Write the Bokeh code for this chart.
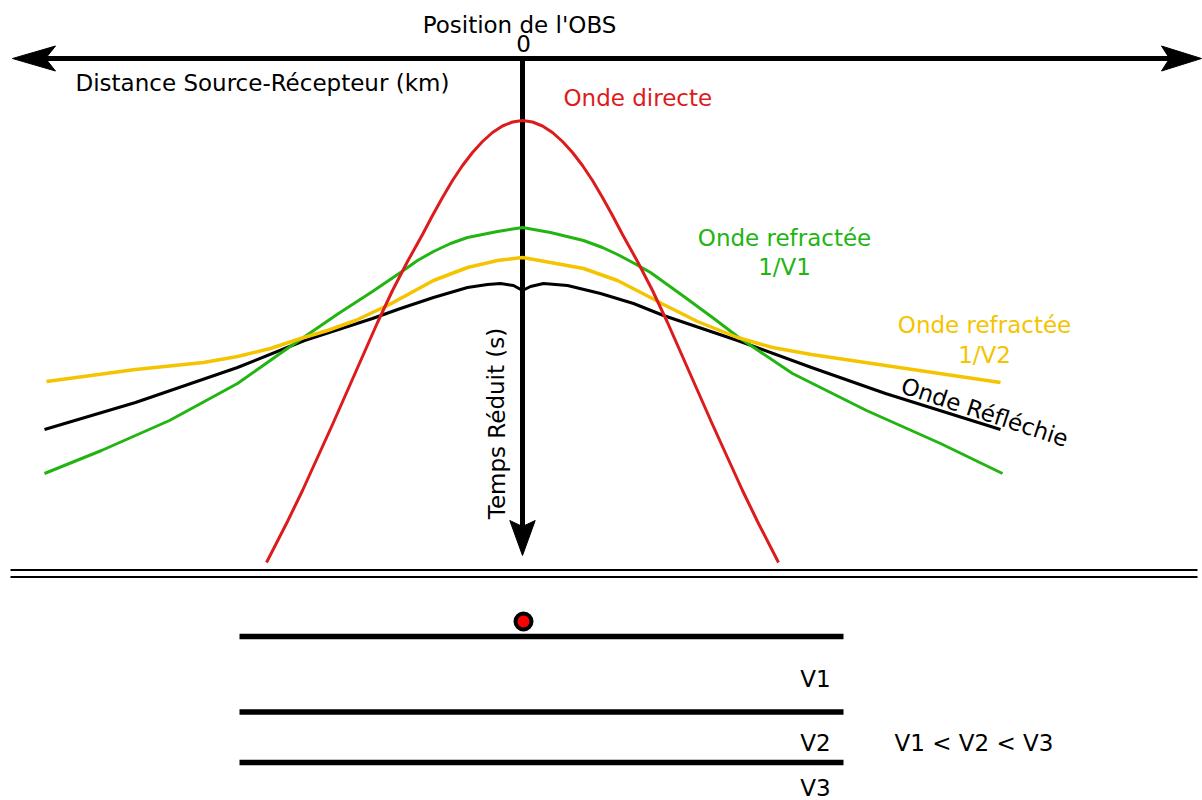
from bokeh.plotting import figure
from bokeh.models import Range1d
from bokeh.core.properties import value
from bokeh.embed import file_html
from bokeh.resources import INLINE

# ---------------- data (distance from the OBS, reduced time), schematic units ----------------
direct_x = [-256, -235, -220, -205, -190, -175, -160, -145, -130, -115, -100, -90, -80, -70, -60, -50, -40, -30, -20, -10, 0,
            10, 20, 30, 40, 50, 60, 70, 80, 90, 100, 115, 130, 145, 160, 175, 190, 205, 220, 235, 256]
direct_t = [504, 463, 432, 399, 366, 332, 298, 264, 232, 203, 176, 157, 139, 122, 107, 94, 83, 74, 67.5, 63.5, 62,
            63.5, 67.5, 74, 83, 94, 107, 122, 139, 157, 176, 203, 232, 264, 298, 332, 366, 399, 432, 463, 504]

refr1_x = [-478, -421, -353, -285, -238, -184, -150, -122, -105, -89, -72, -55, -25, 0,
           28, 61, 80, 95, 112, 128, 160, 190, 215, 270, 344, 418, 480]
refr1_t = [415, 392, 362, 325, 292, 255, 233, 214, 202, 193, 185, 179, 173, 169,
           174, 182, 189, 196, 205, 214, 237, 259, 278, 315, 352, 385, 415]

refr2_x = [-476, -387, -319, -285, -252, -225, -195, -167, -133, -100, -89, -55, -25, 0,
           28, 61, 95, 128, 141, 175, 215, 250, 289, 363, 478]
refr2_t = [323, 311, 304, 298, 290, 281, 272, 262, 246, 228, 222, 209, 202, 199,
           204, 210, 222, 239, 246, 263, 279, 289, 296, 307, 324]

refl_x = [-478, -387, -285, -218, -150, -122, -89, -55, -35, -22, -9, 0,
          8, 21, 45, 78, 111, 141, 215, 289, 363, 478]
refl_t = [371, 344, 309, 282, 260, 250, 239, 229, 226, 225, 227, 232,
          228, 225, 227, 235, 245, 257, 282, 309, 335, 371]

layer_t = [578, 653.5, 704]          # interfaces below the OBS
layer_x = [-283, 321]
layer_labels = ["V1", "V2", "V3"]
layer_label_t = [620, 684, 729]
obs_x, obs_t = [1], [563]

# ---------------- styles ----------------
RED, GREEN, YELLOW = "#dc1c1c", "#22b512", "#f5c400"
FONT = value("DejaVu Sans")
FS = "23px"

p = figure(width=1202, height=800, output_backend="svg", toolbar_location=None,
           x_range=Range1d(-522, 680), y_range=Range1d(742, -58),
           x_axis_location=None, y_axis_location=None, min_border=0,
           background_fill_color="white", border_fill_color="white")
p.outline_line_color = None
p.grid.visible = False


def head(tx, ty, dx, dy, length, half_w, notch):
    bx, by = tx - length * dx, ty - length * dy
    px, py = -dy, dx
    nx, ny = tx - (length - notch) * dx, ty - (length - notch) * dy
    return ([tx, bx + half_w * px, nx, bx - half_w * px],
            [ty, by + half_w * py, ny, by - half_w * py])


# horizontal (distance) axis with two heads
lh = head(-510, 0, -1, 0, 43, 12.5, 10)
rh = head(679, 0, 1, 0, 40, 12.5, 8)
p.line([lh[0][2], rh[0][2]], [0, 0], line_width=5, line_color="black")
# vertical (time) axis
vh = head(0, 497, 0, 1, 35, 12.7, 6)
p.line([0, 0], [0, vh[1][2]], line_width=5, line_color="black")
p.patches([lh[0], rh[0], vh[0]], [lh[1], rh[1], vh[1]], fill_color="black", line_color="black", line_width=1)

# curves
p.line(refl_x, refl_t, line_color="black", line_width=3, line_join="round")
p.line(refr1_x, refr1_t, line_color=GREEN, line_width=3, line_join="round")
p.line(refr2_x, refr2_t, line_color=YELLOW, line_width=3.5, line_join="round")
p.line(direct_x, direct_t, line_color=RED, line_width=3, line_join="round")

# separator (double line)
p.line([-512, 675], [511.5, 511.5], line_color="black", line_width=2)
p.line([-512, 675], [518.5, 518.5], line_color="black", line_width=2)

# layers
p.multi_line([layer_x] * len(layer_t), [[t, t] for t in layer_t], line_color="black", line_width=5.5)
p.scatter(obs_x, obs_t, size=16, fill_color="#ff0000", line_color="black", line_width=4)

# texts
def txt(x, y, s, color="black", align="left", angle=0.0, baseline="alphabetic"):
    p.text(x=[x], y=[y], text=[s], text_color=color, text_font=FONT, text_font_size=FS,
           text_align=align, text_baseline=baseline, angle=angle)

txt(-3, -34, "Position de l'OBS", align="center")
txt(1, -15, "0", align="center")
txt(-447, 24, "Distance Source-Récepteur (km)")
txt(41, 39, "Onde directe", color=RED)
txt(262, 179, "Onde refractée", color=GREEN, align="center")
txt(262, 208, "1/V1", color=GREEN, align="center")
txt(462, 266, "Onde refractée", color=YELLOW, align="center")
txt(462, 296, "1/V2", color=YELLOW, align="center")
txt(379.5, 326.5, "Onde Réfléchie", angle=-0.318)
txt(-26, 365, "Temps Réduit (s)", align="center", angle=1.5708)
for lab, t in zip(layer_labels, layer_label_t):
    txt(293, t, lab, align="center")
txt(451.5, 684, "V1 < V2 < V3", align="center")

open("out.html", "w").write(file_html(p, INLINE))
